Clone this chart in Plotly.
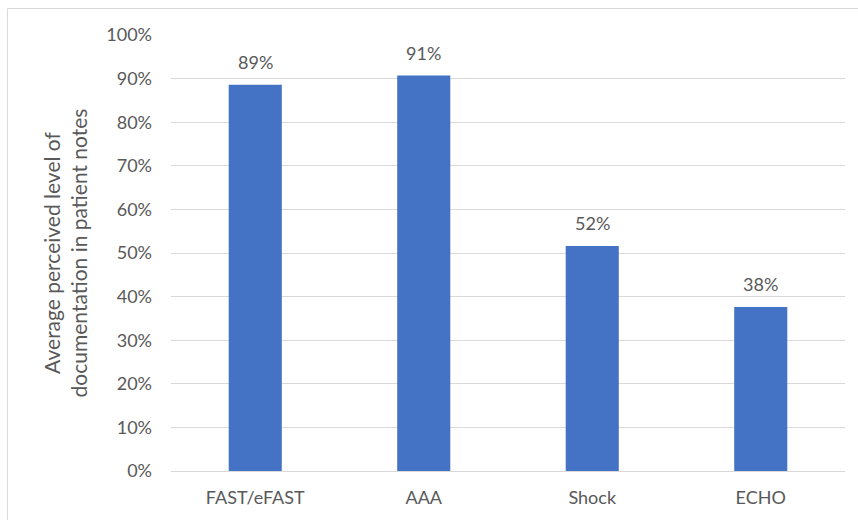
import plotly.graph_objects as go

# Ultrasound scan types and average perceived documentation level
categories = ["FAST/eFAST", "AAA", "Shock", "ECHO"]
doc_level = [0.886, 0.907, 0.516, 0.376]
y_ticks = [i / 10 for i in range(11)]

W, H = 858, 520
L, R, T, B = 171, 13, 35, 49
plot_w = W - L - R
plot_h = H - T - B

def px_to_paper_x(px):
    return (px - L) / plot_w

def px_to_paper_y(py):
    return (H - B - py) / plot_h

text_color = "#595959"
grid_color = "#d9d9d9"
font_family = "Lato, Open Sans, sans-serif"

fig = go.Figure(
    go.Bar(
        x=categories,
        y=doc_level,
        marker=dict(color="#4472C4", line=dict(width=0)),
        hovertemplate="%{x}: %{y:.0%}<extra></extra>",
    )
)

# value labels sitting a little above each bar
annotations = [
    dict(
        x=cat,
        y=val,
        xref="x",
        yref="y",
        text=f"{val:.0%}",
        showarrow=False,
        yanchor="bottom",
        yshift=10,
        font=dict(size=18, color=text_color, family=font_family),
    )
    for cat, val in zip(categories, doc_level)
]

fig.update_layout(
    width=W,
    height=H,
    margin=dict(l=L, r=R, t=T, b=B),
    paper_bgcolor="white",
    plot_bgcolor="white",
    showlegend=False,
    bargap=0.685,
    font=dict(family=font_family, size=18, color=text_color),
    annotations=annotations,
    shapes=[
        dict(
            type="rect",
            xref="paper",
            yref="paper",
            x0=px_to_paper_x(7.5),
            x1=px_to_paper_x(880),
            y0=px_to_paper_y(540),
            y1=px_to_paper_y(8.5),
            line=dict(color=grid_color, width=1),
            fillcolor="rgba(0,0,0,0)",
            layer="below",
        )
    ],
)

fig.update_yaxes(
    range=[0, 1],
    tickvals=y_ticks,
    tickformat=".0%",
    showgrid=True,
    gridcolor=grid_color,
    gridwidth=1,
    zeroline=False,
    showline=False,
    ticks="",
    ticklabelstandoff=18,
    tickfont=dict(size=18, color=text_color),
    title=dict(
        text="Average perceived level of<br>documentation in patient notes",
        font=dict(size=21, color=text_color),
        standoff=12,
    ),
)

fig.update_xaxes(
    showgrid=False,
    showline=True,
    linecolor=grid_color,
    linewidth=1,
    ticks="",
    ticklabelstandoff=10,
    tickfont=dict(size=18, color=text_color),
)

fig.write_html("out.html")
